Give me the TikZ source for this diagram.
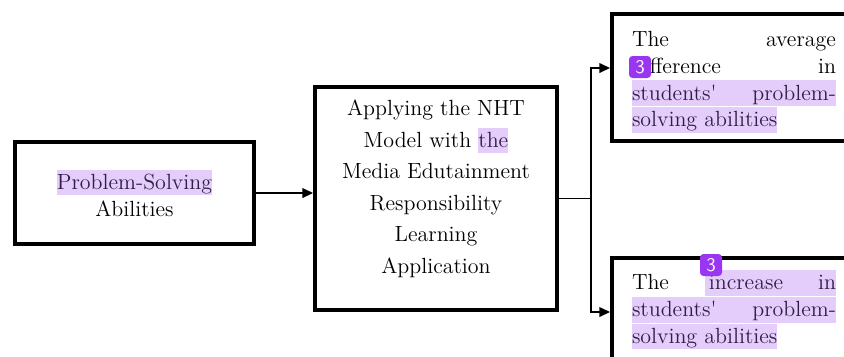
\documentclass[tikz,border=0pt]{standalone}
\usepackage{tikz}
\usetikzlibrary{positioning, arrows.meta}
\usepackage{xcolor}
\definecolor{MarkLavender}{HTML}{E4CCFB}
\definecolor{MarkText}{HTML}{2F1F45}
\definecolor{MarkBadge}{HTML}{9A35F2}
\setlength{\parindent}{0pt}
\newcommand{\hlmark}[1]{{\setlength{\fboxsep}{0pt}\colorbox{MarkLavender}{\color{MarkText}\rule[-3.3pt]{0pt}{14.6pt}#1}}}

\begin{document}
\begin{tikzpicture}[x=0.02cm, y=-0.02cm,
                box/.style={draw=black, line width=0.08cm, fill=white, font=\fontsize{12.5}{15.3}\selectfont},
                outbox/.style={box, anchor=north west, text width=4.08cm, inner xsep=0.4cm, align=justify},
                badge/.style={fill=MarkBadge, rounded corners=2pt, minimum size=0.44cm, inner sep=0pt, text=white, font=\sffamily\fontsize{11}{11}\selectfont},
                conn/.style={-{Triangle[length=6pt, width=5.5pt]}, line width=0.7pt}
            ]
                \useasboundingbox (0,0) rectangle (844,356);

                % Variable
                \node[box, minimum width=4.78cm, minimum height=2.04cm, align=center] (ability) at (134.5,193) {\hlmark{Problem-Solving}\\Abilities};

                % Treatment
                \node[box, minimum width=4.84cm, minimum height=4.46cm, align=center, font=\fontsize{12.5}{17.9}\selectfont] (model) at (436,198.5)
                    {Applying the NHT\\Model with \hlmark{the}\\Media Edutainment\\Responsibility\\Learning\\Application\rule[-0.47cm]{0pt}{0.47cm}};

                % Outcomes
                \node[outbox, minimum height=2.54cm] (diff) at (610,12)
                    {\rule{0pt}{13.7pt}The\hfill average\\
                     difference\hfill in\\
                     \hlmark{\makebox[\linewidth]{students\textquotesingle\hfill problem-}}\\
                     \hlmark{solving abilities}};
                \node[outbox, inner ysep=0.24cm] (gain) at (610,256)
                    {The\hfill\hlmark{\,increase\hspace{0.7cm}in}\\
                     \hlmark{\makebox[\linewidth]{students\textquotesingle\hfill problem-}}\\
                     \hlmark{solving abilities}\rule[-0.6cm]{0pt}{0.6cm}};

                % Marks
                \node[badge] (mark1) at (640,67) {3};
                \node[badge] (mark2) at (711,265) {3};

                % Connections
                \coordinate (split) at (591,0 |- model.east);
                \draw[conn] (ability.east) -- (ability.east -| model.west);
                \draw[line width=0.7pt] (model.east) -- (split);
                \draw[conn] (split) |- (diff.west |- 0,68);
                \draw[conn] (split) |- (gain.west |- 0,312);
            \end{tikzpicture}
\end{document}
